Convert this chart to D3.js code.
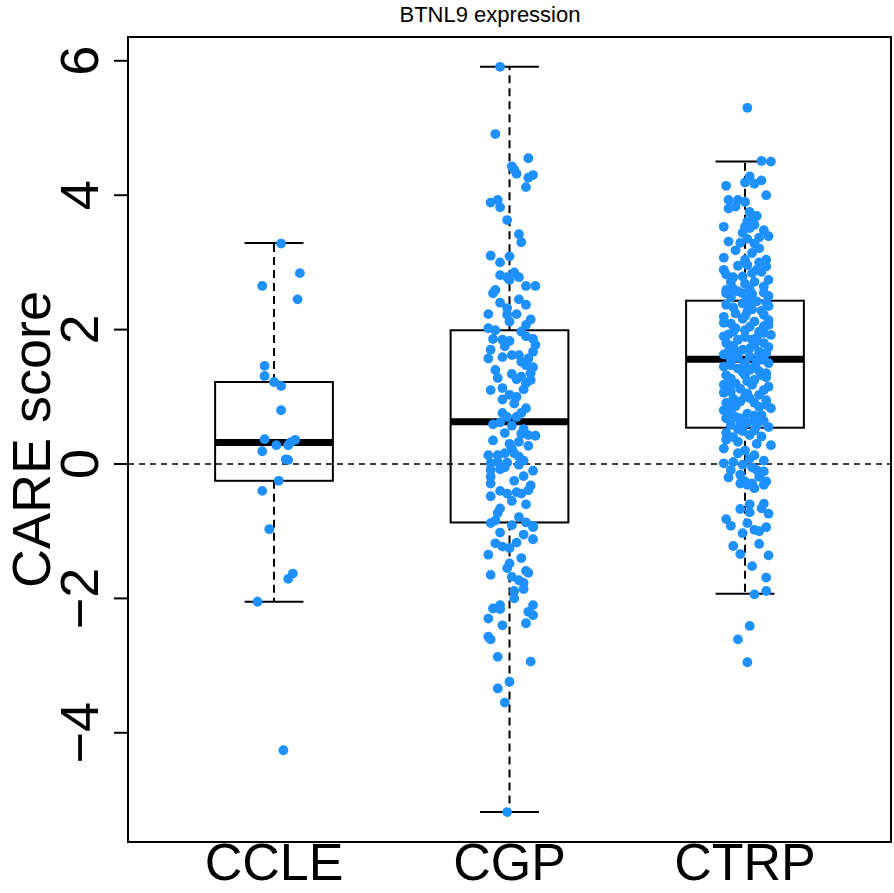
<!DOCTYPE html>
<html><head><meta charset="utf-8">
<script src="https://cdn.jsdelivr.net/npm/d3@7"></script>
<style>body{margin:0;background:#fff}svg{display:block}text{font-family:"Liberation Sans",Arial,Helvetica,sans-serif}</style>
</head><body><div id="chart"></div>
<script>
// ---- data ----
const categories = ["CCLE", "CGP", "CTRP"];
const chartTitle = "BTNL9 expression";
const yTitle = "CARE score";
const yTicks = [-4, -2, 0, 2, 4, 6];
// box statistics [lowerWhisker, Q1, median, Q3, upperWhisker]
const boxCCLE = [-2.05, -0.25, 0.32, 1.22, 3.29];
const boxCGP  = [-5.18, -0.87, 0.63, 1.99, 5.91];
const boxCTRP = [-1.93, 0.54, 1.56, 2.43, 4.50];
// points: [value, horizontal jitter in category units]
const ptsCCLE = [[3.28,0.03],[2.84,0.11],[2.65,-0.05],[2.45,0.10],[1.46,-0.04],[1.31,-0.04],[1.22,0.00],[1.16,0.03],[0.80,0.03],[0.37,-0.04],[0.28,0.01],[0.19,-0.05],[0.28,0.06],[0.32,0.07],[0.36,0.09],[0.07,0.05],[0.06,0.06],[-0.25,0.02],[-0.40,-0.05],[-0.97,-0.02],[-1.63,0.08],[-1.71,0.06],[-2.05,-0.07],[-4.26,0.04]];
const ptsCGP = [[5.91,-0.04],[4.91,-0.06],[4.55,0.08],[4.43,0.01],[4.38,0.02],[4.32,0.03],[4.26,0.08],[4.30,0.10],[4.12,0.07],[3.89,-0.08],[3.93,-0.05],[3.82,-0.04],[3.63,-0.01],[3.42,0.04],[3.30,0.05],[3.10,-0.08],[3.09,0.00],[3.00,-0.04],[2.81,-0.04],[2.78,-0.01],[2.85,0.02],[2.78,0.04],[2.65,0.07],[2.65,0.11],[2.59,-0.06],[2.74,0.00],[2.54,-0.07],[2.45,0.04],[2.37,0.07],[2.23,-0.09],[2.32,-0.01],[2.22,-0.01],[2.23,0.03],[2.12,0.00],[2.07,0.07],[2.02,-0.09],[1.99,-0.06],[1.97,0.05],[1.86,-0.07],[1.85,-0.03],[1.83,0.00],[1.90,0.07],[1.86,0.10],[1.70,-0.08],[1.77,0.11],[1.67,0.10],[1.57,-0.09],[1.59,-0.03],[1.62,0.01],[1.62,0.04],[1.57,0.08],[1.47,0.07],[1.44,0.10],[1.35,0.09],[1.28,-0.05],[1.34,0.01],[1.26,0.03],[1.30,0.05],[1.25,0.09],[1.13,-0.03],[1.11,0.06],[1.03,0.00],[1.00,0.03],[0.96,-0.03],[0.83,0.07],[0.76,-0.03],[0.76,0.05],[0.70,-0.01],[0.70,0.03],[0.59,-0.07],[0.57,0.01],[0.46,-0.02],[0.45,0.05],[0.43,0.08],[0.42,0.11],[0.33,0.04],[0.27,0.08],[0.23,0.01],[0.13,-0.09],[0.13,-0.05],[0.16,-0.02],[0.16,0.02],[0.11,0.04],[0.01,-0.08],[0.03,-0.05],[0.02,-0.01],[-0.01,0.04],[-0.09,-0.08],[-0.08,-0.04],[-0.10,0.10],[-0.19,-0.08],[-0.18,0.06],[-0.29,-0.08],[-0.48,-0.08],[-0.40,-0.04],[-0.44,-0.01],[-0.42,0.03],[-0.44,0.05],[-0.39,0.08],[-0.66,-0.04],[-0.73,-0.05],[-0.88,-0.08],[-0.84,-0.06],[-0.91,0.01],[-0.79,0.04],[-0.87,0.07],[-0.92,0.10],[-0.94,0.10],[-1.02,-0.04],[-1.18,-0.06],[-1.23,-0.03],[-1.25,0.00],[-1.17,0.03],[-1.12,0.10],[-1.35,-0.09],[-1.48,0.00],[-1.55,-0.01],[-1.59,0.07],[-1.62,0.08],[-1.65,-0.08],[-1.68,0.01],[-1.73,0.04],[-1.77,0.06],[-1.89,0.02],[-1.86,0.06],[-2.00,0.02],[-2.10,-0.04],[-2.15,-0.07],[-2.16,-0.04],[-2.10,0.10],[-2.20,0.08],[-2.25,0.10],[-2.30,-0.09],[-2.40,-0.03],[-2.37,0.07],[-2.57,-0.09],[-2.61,-0.08],[-2.87,-0.05],[-2.94,0.09],[-3.24,0.00],[-3.34,-0.05],[-3.55,-0.02],[-5.18,-0.01],
[1.75,-0.02],[1.52,0.05],[1.40,-0.06],[1.20,0.07],[0.90,0.02],[0.62,-0.04],[0.52,0.06],[0.35,-0.07],[0.30,0.00],[0.05,0.06],[-0.05,-0.02],[-0.25,0.02],[-0.32,0.09],[-0.55,0.01],[-0.60,0.07],[2.15,0.09],[2.40,-0.04],[1.10,-0.08],[-1.05,0.06],[-1.40,0.05]];
const ptsCTRP = [[5.30,0.01],[4.51,0.07],[4.50,0.11],[4.28,0.02],[4.19,0.00],[4.17,0.04],[4.22,0.07],[4.14,-0.08],[4.00,0.09],[3.93,-0.07],[3.93,-0.03],[3.90,0.00],[3.80,-0.07],[3.83,-0.04],[3.69,0.05],[3.66,0.03],[3.61,0.01],[3.56,0.04],[3.53,0.00],[3.53,-0.09],[3.51,0.02],[3.44,-0.01],[3.39,0.10],[3.37,0.06],[3.31,-0.07],[3.29,-0.02],[3.28,0.04],[3.21,0.06],[3.14,0.03],[3.07,-0.09],[3.04,0.00],[3.04,0.09],[2.96,0.01],[2.94,0.09],[2.89,-0.09],[2.89,0.05],[2.86,0.07],[2.84,0.03],[2.78,-0.05],[2.79,-0.01],[2.74,0.10],[2.71,-0.06],[2.71,0.04],[2.59,-0.08],[2.61,-0.05],[2.60,0.02],[2.64,0.08],[2.54,-0.01],
[2.54,-0.08],[2.57,-0.03],[2.53,0.03],[2.55,0.08],[2.37,-0.08],[2.39,-0.01],[2.42,0.05],[2.35,0.10],[2.19,-0.09],[2.24,-0.04],[2.27,0.01],[2.22,0.08],[2.09,-0.06],[2.12,0.04],[2.07,0.10],[1.97,-0.05],[1.99,0.00],[1.97,0.06],[1.92,0.11],[1.80,-0.08],[1.85,-0.03],[1.85,0.03],[1.80,0.08],[1.67,-0.07],[1.70,-0.01],[1.67,0.06],[1.65,0.09],[1.55,-0.06],[1.60,0.02],[1.55,0.08],[1.45,-0.09],[1.42,-0.03],[1.45,0.04],[1.32,-0.08],[1.32,0.00],[1.32,0.07],[1.18,-0.09],[1.20,-0.04],[1.18,0.03],[1.15,0.10],[1.08,-0.06],[1.05,0.01],[1.03,0.06],[0.91,-0.08],[0.93,-0.02],[0.91,0.04],[0.83,0.11],[0.78,-0.06],[0.75,0.01],[0.73,0.07],[0.68,-0.08],[0.68,-0.02],[0.58,-0.06],[0.61,0.01],[0.55,0.10],[0.46,-0.08],[0.49,-0.01],[0.43,0.02],[0.41,0.07],[0.36,-0.08],[0.33,-0.03],[0.23,-0.09],[0.28,0.11],[0.16,-0.03],[0.13,0.04],[0.01,-0.09],[0.03,-0.05],[-0.01,-0.01],[-0.09,-0.06],[-0.09,0.05],[-0.11,0.08],[-0.16,-0.02],[-0.19,0.06],[-0.26,0.00],[-0.29,0.03],[-0.26,0.09],
[-0.29,-0.02],[-0.31,0.01],[-0.36,0.04],[-0.31,0.08],[-0.60,0.02],[-0.59,0.08],[-0.67,-0.02],[-0.72,0.02],[-0.66,0.07],[-0.74,0.10],[-0.82,-0.08],[-0.92,-0.06],[-0.88,0.01],[-0.98,0.04],[-1.00,0.06],[-0.94,0.09],[-1.03,-0.01],[-1.22,-0.05],[-1.19,0.06],[-1.34,-0.02],[-1.36,0.10],[-1.52,0.03],[-1.69,0.09],[-1.89,0.09],[-1.94,0.04],[-2.41,0.02],[-2.61,-0.03],[-2.95,0.01],
[2.48,-0.06],[2.45,0.01],[2.40,0.09],[2.33,-0.05],[2.30,0.03],[2.28,0.07],[2.16,-0.01],[2.14,0.10],[2.10,-0.09],[2.04,0.02],[2.02,-0.04],[1.95,0.08],[1.93,-0.07],[1.89,0.00],[1.88,0.05],[1.76,-0.05],[1.74,0.10],[1.72,0.02],[1.63,-0.09],[1.62,0.06],[1.58,-0.03],[1.50,0.00],[1.50,0.10],[1.47,-0.06],[1.38,0.06],[1.37,-0.01],[1.35,0.09],[1.27,-0.06],[1.25,0.04],[1.23,0.01],[1.12,-0.02],[1.10,0.08],[1.06,-0.09],[0.98,0.02],[0.97,-0.05],[0.95,0.09],[0.86,-0.04],[0.85,0.06],[0.80,-0.09],[0.72,0.04],[0.70,-0.04],[0.64,0.08],[0.62,-0.02],[0.57,0.05],[0.50,0.04],[0.40,-0.05],[0.30,0.05],[0.20,0.00],[0.08,0.02],[0.05,0.08],[-0.05,0.03],[-0.20,-0.07],[2.68,0.00],[2.82,-0.08],[3.00,0.06],[3.18,-0.04],[3.35,0.01],[3.48,0.08],[3.75,0.02],[2.95,-0.03],
[2.20,0.00],[2.05,0.08],[1.78,0.04],[1.68,-0.04],[1.52,0.05],[1.40,0.02],[1.29,0.09],[1.14,-0.07],[1.00,0.00],[0.88,0.09],[0.66,0.04],[0.52,-0.03],[2.36,0.02],[2.50,0.10],[1.90,-0.09],[0.88,-0.07]];

const boxes = [boxCCLE, boxCGP, boxCTRP];
const points = [ptsCCLE, ptsCGP, ptsCTRP];

// ---- drawing ----
const W = 894, H = 893;
const plot = {left: 128, right: 891, top: 37, bottom: 842};
const svg = d3.select("#chart").append("svg").attr("width", W).attr("height", H);
const x = d3.scaleLinear().domain([0.38, 3.62]).range([plot.left, plot.right]);
const y = d3.scaleLinear().domain([-5.625, 6.354]).range([plot.bottom, plot.top]);
const boxHalf = 0.25, capHalf = 0.125;

// zero reference line
svg.append("line").attr("x1", plot.left).attr("x2", plot.right)
  .attr("y1", y(0)).attr("y2", y(0))
  .attr("stroke", "#000").attr("stroke-width", 1.4).attr("stroke-dasharray", "6,5");

const g = svg.append("g");
boxes.forEach((b, i) => {
  const c = i + 1;
  const [lo, q1, med, q3, hi] = b;
  g.append("line").attr("x1", x(c)).attr("x2", x(c)).attr("y1", y(q3)).attr("y2", y(hi))
    .attr("stroke", "#000").attr("stroke-width", 2).attr("stroke-dasharray", "8,5");
  g.append("line").attr("x1", x(c)).attr("x2", x(c)).attr("y1", y(q1)).attr("y2", y(lo))
    .attr("stroke", "#000").attr("stroke-width", 2).attr("stroke-dasharray", "8,5");
  [lo, hi].forEach(v => g.append("line").attr("x1", x(c - capHalf)).attr("x2", x(c + capHalf))
    .attr("y1", y(v)).attr("y2", y(v)).attr("stroke", "#000").attr("stroke-width", 2));
  g.append("rect").attr("x", x(c - boxHalf)).attr("y", y(q3))
    .attr("width", x(c + boxHalf) - x(c - boxHalf)).attr("height", y(q1) - y(q3))
    .attr("fill", "none").attr("stroke", "#000").attr("stroke-width", 2);
  g.append("line").attr("x1", x(c - boxHalf)).attr("x2", x(c + boxHalf))
    .attr("y1", y(med)).attr("y2", y(med)).attr("stroke", "#000").attr("stroke-width", 7);
});

// points
points.forEach((pts, i) => {
  svg.append("g").selectAll("circle").data(pts).join("circle")
    .attr("cx", d => x(i + 1 + d[1])).attr("cy", d => y(d[0]))
    .attr("r", 4.9).attr("fill", "#1E90FF");
});

// frame
svg.append("rect").attr("x", plot.left).attr("y", plot.top)
  .attr("width", plot.right - plot.left).attr("height", plot.bottom - plot.top)
  .attr("fill", "none").attr("stroke", "#000").attr("stroke-width", 2);

// y axis
const yAxis = svg.append("g");
yTicks.forEach(t => {
  yAxis.append("line").attr("x1", plot.left - 14).attr("x2", plot.left)
    .attr("y1", y(t)).attr("y2", y(t)).attr("stroke", "#000").attr("stroke-width", 2);
  yAxis.append("text").attr("transform", `translate(98,${y(t)}) rotate(-90)`)
    .attr("text-anchor", "middle").attr("font-size", 54)
    .text(t < 0 ? "\u2212" + Math.abs(t) : String(t));
});
svg.append("text").attr("transform", `translate(50,${(plot.top + plot.bottom) / 2}) rotate(-90)`)
  .attr("text-anchor", "middle").attr("font-size", 54).text(yTitle);

// x labels
categories.forEach((cat, i) => {
  svg.append("text").attr("x", x(i + 1)).attr("y", 880).attr("text-anchor", "middle")
    .attr("font-size", 52).text(cat);
});

// title
svg.append("text").attr("x", 490).attr("y", 22).attr("text-anchor", "middle")
  .attr("font-size", 22).text(chartTitle);
</script></body></html>
